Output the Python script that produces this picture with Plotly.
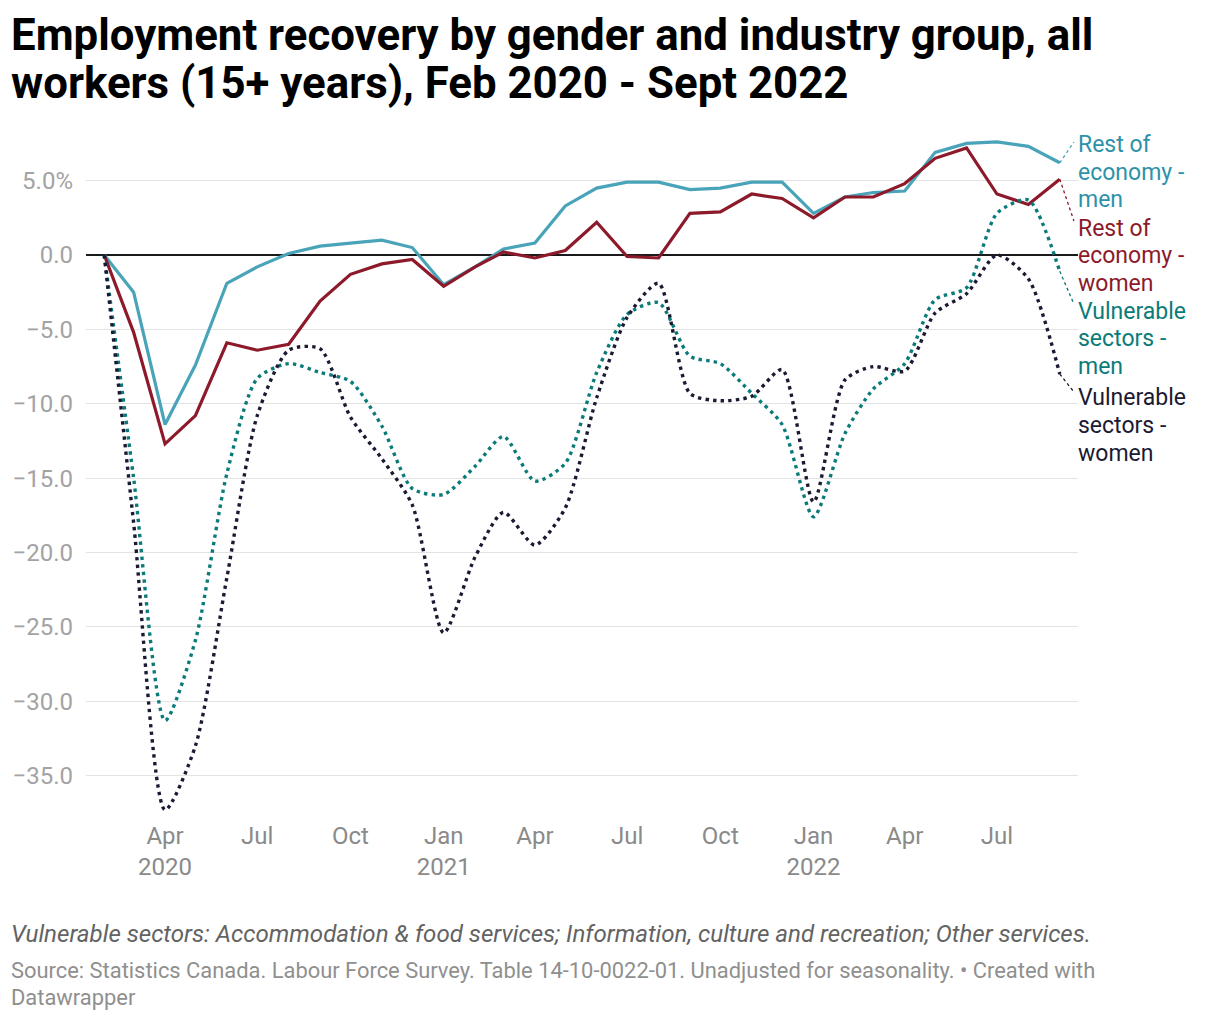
import plotly.graph_objects as go

# ---------------- data ----------------
months = [
    "2020-02-01", "2020-03-01", "2020-04-01", "2020-05-01", "2020-06-01", "2020-07-01",
    "2020-08-01", "2020-09-01", "2020-10-01", "2020-11-01", "2020-12-01", "2021-01-01",
    "2021-02-01", "2021-03-01", "2021-04-01", "2021-05-01", "2021-06-01", "2021-07-01",
    "2021-08-01", "2021-09-01", "2021-10-01", "2021-11-01", "2021-12-01", "2022-01-01",
    "2022-02-01", "2022-03-01", "2022-04-01", "2022-05-01", "2022-06-01", "2022-07-01",
    "2022-08-01", "2022-09-01",
]

rest_men = [0.0, -2.5, -11.4, -7.4, -1.9, -0.8, 0.1, 0.6, 0.8, 1.0, 0.5, -2.0,
            -0.8, 0.4, 0.8, 3.3, 4.5, 4.9, 4.9, 4.4, 4.5, 4.9, 4.9, 2.8,
            3.9, 4.2, 4.3, 6.9, 7.5, 7.6, 7.3, 6.2]

rest_women = [0.0, -5.2, -12.7, -10.8, -5.9, -6.4, -6.0, -3.1, -1.3, -0.6, -0.3, -2.1,
              -0.8, 0.2, -0.2, 0.3, 2.2, -0.1, -0.2, 2.8, 2.9, 4.1, 3.8, 2.5,
              3.9, 3.9, 4.8, 6.5, 7.2, 4.1, 3.4, 5.1]

vuln_men = [0.0, -15.0, -31.3, -25.9, -14.7, -8.3, -7.3, -7.9, -8.5, -11.5, -15.7, -16.1,
            -14.2, -12.2, -15.2, -14.0, -7.9, -4.0, -3.2, -6.8, -7.3, -9.3, -11.4, -17.6,
            -12.0, -9.0, -7.3, -3.0, -2.2, 2.8, 3.7, -1.1]

vuln_women = [0.0, -18.0, -37.3, -33.0, -21.7, -10.8, -6.4, -6.3, -10.9, -13.7, -16.8, -25.4,
              -20.3, -17.3, -19.5, -17.0, -9.6, -4.2, -1.9, -9.3, -9.8, -9.5, -7.7, -16.6,
              -8.4, -7.5, -7.8, -3.9, -2.6, 0.0, -1.6, -8.0]

series_names = ["Rest of economy - men", "Rest of economy - women",
                "Vulnerable sectors - men", "Vulnerable sectors - women"]
label_lines = [["Rest of", "economy -", "men"],
               ["Rest of", "economy -", "women"],
               ["Vulnerable", "sectors -", "men"],
               ["Vulnerable", "sectors -", "women"]]

tick_dates = ["2020-04-01", "2020-07-01", "2020-10-01", "2021-01-01", "2021-04-01",
              "2021-07-01", "2021-10-01", "2022-01-01", "2022-04-01", "2022-07-01"]
tick_text = ["Apr<br>2020", "Jul", "Oct", "Jan<br>2021", "Apr", "Jul", "Oct",
             "Jan<br>2022", "Apr", "Jul"]

y_ticks = [5, 0, -5, -10, -15, -20, -25, -30, -35]
y_tick_text = ["5.0%", "0.0", "\u22125.0", "\u221210.0", "\u221215.0", "\u221220.0",
               "\u221225.0", "\u221230.0", "\u221235.0"]

title_lines = ["Employment recovery by gender and industry group, all",
               "workers (15+ years), Feb 2020 - Sept 2022"]
note_text = ("Vulnerable sectors: Accommodation & food services; Information, "
             "culture and recreation; Other services.")
source_lines = ["Source: Statistics Canada. Labour Force Survey. Table 14-10-0022-01. "
                "Unadjusted for seasonality. \u2022 Created with", "Datawrapper"]

# ---------------- styling ----------------
FONT = "Roboto"
line_colors = ["#49a3b9", "#8c1a2a", "#0b7b79", "#1b1a33"]
label_colors = ["#2d92a9", "#8c1a2a", "#0b7b79", "#1b1a33"]
W, H = 1220, 1020
L, R, T, B = 83, 1078, 139, 814


def px(p):
    return (p - L) / (R - L)


def py(p):
    return (B - p) / (B - T)


fig = go.Figure()

series = [rest_men, rest_women, vuln_men, vuln_women]
for i, (name, vals) in enumerate(zip(series_names, series)):
    dotted = i >= 2
    fig.add_trace(go.Scatter(
        x=months, y=vals, name=name, mode="lines",
        line=dict(color=line_colors[i], width=3.2 if not dotted else 3.4,
                  dash="3.4px,4.2px" if dotted else "solid",
                  shape="spline" if dotted else "linear",
                  smoothing=0.7 if dotted else None),
        cliponaxis=False, showlegend=False,
    ))

# label positions (pixel centres of each text line) and connector targets
label_centres = [[145, 172.5, 200], [228, 255.5, 283], [311, 338.5, 366], [398, 425.5, 453]]
conn_target_px = [142, 221, 304, 392]
ZERO_PX, UNIT_PX = 255, 14.875

annotations = []
shapes = []
for i, vals in enumerate(series):
    for line, cy in zip(label_lines[i], label_centres[i]):
        annotations.append(dict(
            text=line, x=px(1077), y=py(cy), xref="paper", yref="paper",
            xanchor="left", yanchor="middle", showarrow=False, borderpad=0,
            font=dict(family=FONT, size=23, color=label_colors[i])))
    shapes.append(dict(
        type="line", xref="x", yref="y",
        x0=months[-1], y0=vals[-1],
        x1="2022-09-15", y1=(ZERO_PX - conn_target_px[i]) / UNIT_PX,
        line=dict(color=line_colors[i], width=1.3, dash="dot")))

# title
for line, cy in zip(title_lines, [35, 83]):
    annotations.append(dict(
        text="<b>" + line + "</b>", x=px(6), y=py(cy), xref="paper", yref="paper",
        xanchor="left", yanchor="middle", showarrow=False,
        font=dict(family=FONT, size=43.8, color="#000000")))

annotations.append(dict(
    text="<i>" + note_text + "</i>", x=px(6), y=py(934), xref="paper", yref="paper",
    xanchor="left", yanchor="middle", showarrow=False,
    font=dict(family=FONT, size=24.1, color="#636363")))
for line, cy in zip(source_lines, [970, 997]):
    annotations.append(dict(
        text=line, x=px(6), y=py(cy), xref="paper", yref="paper",
        xanchor="left", yanchor="middle", showarrow=False,
        font=dict(family=FONT, size=21.9, color="#8f8f8f")))

fig.update_layout(
    width=W, height=H,
    margin=dict(l=L, r=W - R, t=T, b=H - B, pad=0),
    paper_bgcolor="white", plot_bgcolor="white",
    font=dict(family=FONT),
    annotations=annotations, shapes=shapes,
    xaxis=dict(
        type="date", range=["2020-01-14", "2022-09-19"],
        tickmode="array", tickvals=tick_dates, ticktext=tick_text,
        showgrid=False, zeroline=False, showline=False, ticks="",
        tickfont=dict(family=FONT, size=24, color="#8a8a8a"),
        ticklabelstandoff=5,
    ),
    yaxis=dict(
        range=[(ZERO_PX - B) / UNIT_PX, (ZERO_PX - T) / UNIT_PX],
        tickmode="array", tickvals=y_ticks, ticktext=y_tick_text,
        showgrid=True, gridcolor="#e3e3e3", gridwidth=1.3,
        zeroline=True, zerolinecolor="#1a1a1a", zerolinewidth=1.6,
        showline=False, ticks="",
        tickfont=dict(family=FONT, size=24, color="#a3a3a3"),
        ticklabelstandoff=12,
    ),
)

fig.write_html("out.html", config={"displayModeBar": False},
               post_script="document.body.style.margin='0';")
